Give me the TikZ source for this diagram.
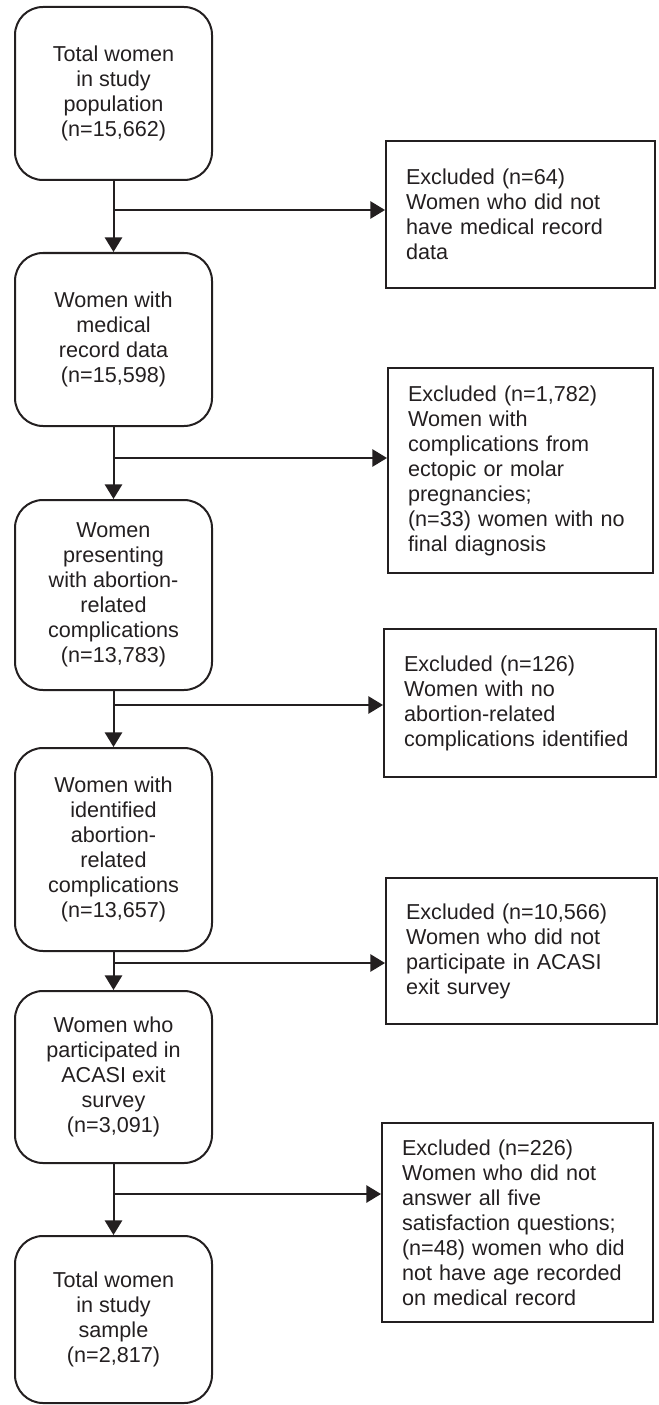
\documentclass[tikz,border=0pt]{standalone}
\usepackage{fontspec}
\setmainfont{Liberation Sans}
\usetikzlibrary{arrows.meta}
\definecolor{ink}{HTML}{231F20}
\begin{document}
\begin{tikzpicture}[x=0.75pt,y=-0.75pt,
  every node/.style={font=\fontsize{16.2}{18.75}\selectfont, text=ink},
  mainbox/.style={draw=ink, line width=1.5pt, rounded corners=21pt, align=center,
                  minimum width=147.75pt, inner sep=0pt},
  exbox/.style={draw=ink, line width=1.5pt, align=left, inner xsep=15pt, inner ysep=0pt},
  flow/.style={draw=ink, line width=1.5pt, -{Triangle[width=13pt,length=11pt]}},
  branch/.style={draw=ink, line width=1.3pt, -{Triangle[width=13pt,length=11pt]}}]

\useasboundingbox (0,0) rectangle (659,1405);

% main column
\node[mainbox, minimum height=129.75pt] (b1) at (113.5,93.5)
  {Total women\\in study\\population\\(n=15,662)};
\node[mainbox, minimum height=129.75pt] (b2) at (113.5,339.5)
  {Women with\\medical\\record data\\(n=15,598)};
\node[mainbox, minimum height=142.5pt] (b3) at (113.5,595)
  {Women\\presenting\\with abortion-\\related\\complications\\(n=13,783)};
\node[mainbox, minimum height=152.25pt] (b4) at (113.5,849.5)
  {Women with\\identified\\abortion-\\related\\complications\\(n=13,657)};
\node[mainbox, minimum height=129pt] (b5) at (113.5,1077)
  {Women who\\participated in\\ACASI exit\\survey\\(n=3,091)};
\node[mainbox, minimum height=125.25pt] (b6) at (113.5,1319.5)
  {Total women\\in study\\sample\\(n=2,817)};

% exclusion boxes
\node[exbox, minimum height=110.25pt, text width=171.75pt] (e1) at (520.5,214.5)
  {Excluded (n=64)\\Women who did not\\have medical record\\data};
\node[exbox, minimum height=153.75pt, text width=168.75pt] (e2) at (520.5,470.5)
  {Excluded (n=1,782)\\Women with\\complications from\\ectopic or molar\\pregnancies;\\(n=33) women with no\\final diagnosis};
\node[exbox, minimum height=111pt, text width=174pt] (e3) at (520,703)
  {Excluded (n=126)\\Women with no\\abortion-related\\complications identified};
\node[exbox, minimum height=109.5pt, text width=173.25pt] (e4) at (521.5,951)
  {Excluded (n=10,566)\\Women who did not\\participate in ACASI\\exit survey};
\node[exbox, minimum height=149.25pt, text width=173.25pt] (e5) at (517.5,1222.5)
  {Excluded (n=226)\\Women who did not\\answer all five\\satisfaction questions;\\(n=48) women who did\\not have age recorded\\on medical record};

% junction points
\coordinate (j1) at (b1.south |- 0,210);
\coordinate (j2) at (b2.south |- 0,458);
\coordinate (j3) at (b3.south |- 0,705);
\coordinate (j4) at (b4.south |- 0,963);
\coordinate (j5) at (b5.south |- 0,1194);

% vertical flow
\draw[flow] (b1.south) -- (b2.north);
\draw[flow] (b2.south) -- (b3.north);
\draw[flow] (b3.south) -- (b4.north);
\draw[flow] (b4.south) -- (b5.north);
\draw[flow] (b5.south) -- (b6.north);

% branches to exclusions
\draw[branch] (j1) -- (j1 -| e1.west);
\draw[branch] (j2) -- (j2 -| e2.west);
\draw[branch] (j3) -- (j3 -| e3.west);
\draw[branch] (j4) -- (j4 -| e4.west);
\draw[branch] (j5) -- (j5 -| e5.west);
\end{tikzpicture}
\end{document}
